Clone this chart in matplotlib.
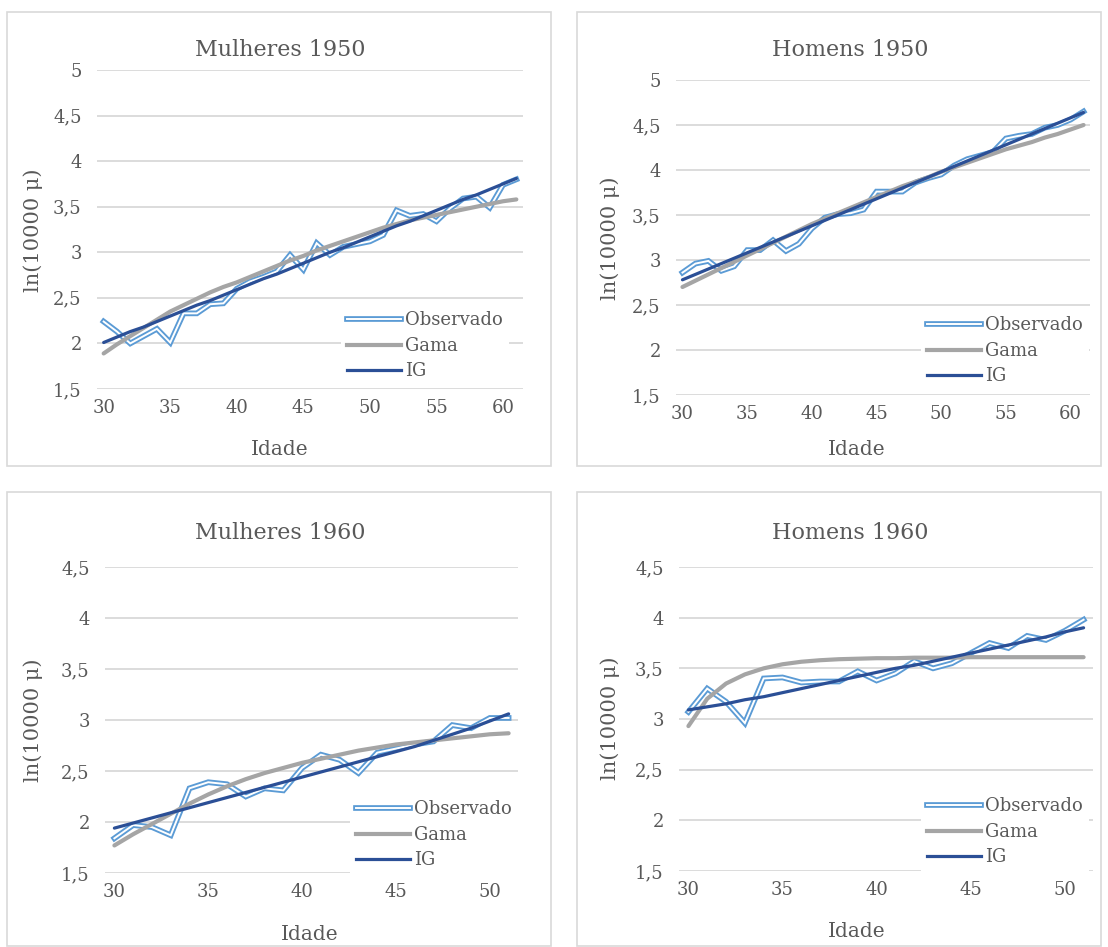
import matplotlib
matplotlib.use("Agg")
import matplotlib.pyplot as plt
from matplotlib.lines import Line2D
from matplotlib.patches import Rectangle
from matplotlib.legend_handler import HandlerTuple
from matplotlib.ticker import FuncFormatter

plt.rcParams['font.family'] = ['DejaVu Serif']

ages_1950 = list(range(30, 62))
ages_1960 = list(range(30, 52))

mulheres_1950_obs = [2.24, 2.13, 2.00, 2.08, 2.16, 2.01, 2.33, 2.33, 2.43, 2.44, 2.60, 2.68, 2.73, 2.79, 2.97, 2.81,
                     3.10, 2.97, 3.06, 3.09, 3.12, 3.19, 3.46, 3.40, 3.42, 3.34, 3.48, 3.59, 3.61, 3.49, 3.74, 3.80]
mulheres_1950_gama = [1.89, 1.99, 2.08, 2.17, 2.26, 2.35, 2.42, 2.49, 2.56, 2.62, 2.67, 2.73, 2.79, 2.85, 2.91, 2.96,
                      3.02, 3.07, 3.12, 3.17, 3.22, 3.27, 3.31, 3.35, 3.38, 3.41, 3.44, 3.47, 3.50, 3.53, 3.56, 3.58]
mulheres_1950_ig = [2.01, 2.07, 2.13, 2.18, 2.24, 2.30, 2.36, 2.42, 2.47, 2.53, 2.59, 2.65, 2.71, 2.76, 2.82, 2.88,
                    2.94, 3.00, 3.05, 3.11, 3.17, 3.23, 3.29, 3.34, 3.40, 3.46, 3.52, 3.58, 3.63, 3.69, 3.75, 3.81]

homens_1950_obs = [2.86, 2.96, 2.99, 2.88, 2.93, 3.11, 3.11, 3.22, 3.10, 3.18, 3.35, 3.47, 3.51, 3.52, 3.56, 3.76,
                   3.76, 3.76, 3.86, 3.91, 3.95, 4.05, 4.12, 4.16, 4.20, 4.35, 4.38, 4.40, 4.47, 4.50, 4.56, 4.65]
homens_1950_gama = [2.70, 2.77, 2.84, 2.91, 2.98, 3.05, 3.12, 3.19, 3.26, 3.33, 3.40, 3.46, 3.52, 3.58, 3.64, 3.70,
                    3.76, 3.82, 3.87, 3.92, 3.98, 4.03, 4.08, 4.13, 4.18, 4.23, 4.27, 4.31, 4.36, 4.40, 4.45, 4.50]
homens_1950_ig = [2.78, 2.84, 2.90, 2.96, 3.02, 3.08, 3.14, 3.20, 3.26, 3.32, 3.38, 3.44, 3.50, 3.56, 3.62, 3.68,
                  3.74, 3.80, 3.86, 3.92, 3.98, 4.04, 4.10, 4.16, 4.22, 4.28, 4.34, 4.40, 4.46, 4.52, 4.58, 4.64]

mulheres_1960_obs = [1.84, 1.97, 1.95, 1.87, 2.33, 2.39, 2.37, 2.25, 2.33, 2.31, 2.53, 2.66, 2.61, 2.48, 2.68, 2.72,
                     2.76, 2.79, 2.95, 2.92, 3.02, 3.02]
mulheres_1960_gama = [1.77, 1.88, 1.98, 2.08, 2.18, 2.27, 2.35, 2.42, 2.48, 2.53, 2.58, 2.62, 2.66, 2.70, 2.73, 2.76,
                      2.78, 2.80, 2.82, 2.84, 2.86, 2.87]
mulheres_1960_ig = [1.94, 1.99, 2.04, 2.09, 2.14, 2.19, 2.24, 2.29, 2.34, 2.39, 2.44, 2.49, 2.54, 2.59, 2.64, 2.69,
                    2.74, 2.80, 2.86, 2.92, 2.99, 3.06]

homens_1960_obs = [3.07, 3.30, 3.17, 2.96, 3.40, 3.41, 3.36, 3.37, 3.37, 3.47, 3.38, 3.45, 3.57, 3.50, 3.55, 3.65,
                   3.75, 3.70, 3.82, 3.78, 3.87, 3.98]
homens_1960_gama = [2.93, 3.20, 3.35, 3.44, 3.50, 3.54, 3.565, 3.58, 3.59, 3.595, 3.60, 3.60, 3.605, 3.605, 3.605,
                    3.61, 3.61, 3.61, 3.61, 3.61, 3.61, 3.61]
homens_1960_ig = [3.09, 3.12, 3.15, 3.19, 3.22, 3.26, 3.30, 3.34, 3.38, 3.42, 3.46, 3.50, 3.53, 3.57, 3.61, 3.65,
                  3.69, 3.73, 3.77, 3.81, 3.86, 3.90]

titles = ["Mulheres 1950", "Homens 1950", "Mulheres 1960", "Homens 1960"]
legend_labels = ["Observado", "Gama", "IG"]
x_label = "Idade"
y_label = "ln(10000 μ)"

W, H = 1108, 947
fig = plt.figure(figsize=(W / 100, H / 100), dpi=100)
fig.patch.set_facecolor("white")

C_OBS = "#5B9BD5"
C_GAMA = "#A5A5A5"
C_IG = "#2B4F96"
C_TXT = "#595959"
C_GRID = "#D9D9D9"

LW_OBS_OUT, LW_OBS_IN = 4.1, 1.4
LW_GAMA, LW_IG = 3.0, 2.3


def fx(px):
    return px / W


def fy(py):
    return 1 - py / H


# panel frames (px): left, top, right, bottom
frames = [(7, 12, 551, 466), (577, 12, 1101, 466), (7, 492, 551, 946), (577, 492, 1101, 946)]
for l, t, r, b in frames:
    fig.add_artist(Rectangle((fx(l), fy(b)), fx(r - l), (b - t) / H, transform=fig.transFigure,
                             fill=False, edgecolor=C_GRID, lw=1.2))

panels = [
    dict(ages=ages_1950, obs=mulheres_1950_obs, gama=mulheres_1950_gama, ig=mulheres_1950_ig,
         box=(97, 70, 523, 389), ylim=(1.5, 5), xticks=[30, 35, 40, 45, 50, 55, 60], xlim=(29.5, 61.5),
         title_xy=(280, 50), xl_xy=(280, 449), yl_xy=(33, 230), leg=(341, 305)),
    dict(ages=ages_1950, obs=homens_1950_obs, gama=homens_1950_gama, ig=homens_1950_ig,
         box=(676, 80, 1090, 395), ylim=(1.5, 5), xticks=[30, 35, 40, 45, 50, 55, 60], xlim=(29.5, 61.5),
         title_xy=(850, 50), xl_xy=(857, 449), yl_xy=(610, 238), leg=(921, 310)),
    dict(ages=ages_1960, obs=mulheres_1960_obs, gama=mulheres_1960_gama, ig=mulheres_1960_ig,
         box=(105, 567, 518, 873), ylim=(1.5, 4.5), xticks=[30, 35, 40, 45, 50], xlim=(29.5, 51.5),
         title_xy=(280, 533), xl_xy=(310, 934), yl_xy=(33, 720), leg=(350, 794)),
    dict(ages=ages_1960, obs=homens_1960_obs, gama=homens_1960_gama, ig=homens_1960_ig,
         box=(679, 567, 1093, 871), ylim=(1.5, 4.5), xticks=[30, 35, 40, 45, 50], xlim=(29.5, 51.5),
         title_xy=(850, 533), xl_xy=(857, 931), yl_xy=(610, 718), leg=(921, 791)),
]

fmt = FuncFormatter(lambda v, p: ("%g" % v).replace(".", ","))

for i, p in enumerate(panels):
    l, t, r, b = p["box"]
    ax = fig.add_axes([fx(l), fy(b), fx(r - l), (b - t) / H])
    ax.set_facecolor("none")
    ax.plot(p["ages"], p["obs"], color=C_OBS, lw=LW_OBS_OUT, solid_joinstyle="miter", zorder=3)
    ax.plot(p["ages"], p["obs"], color="white", lw=LW_OBS_IN, solid_joinstyle="miter", zorder=3.1)
    ax.plot(p["ages"], p["gama"], color=C_GAMA, lw=LW_GAMA, solid_capstyle="round", zorder=4)
    ax.plot(p["ages"], p["ig"], color=C_IG, lw=LW_IG, solid_capstyle="round", zorder=5)
    ax.set_xlim(*p["xlim"])
    ax.set_ylim(*p["ylim"])
    ax.set_xticks(p["xticks"])
    yt = []
    v = p["ylim"][0]
    while v <= p["ylim"][1] + 1e-9:
        yt.append(v)
        v += 0.5
    ax.set_yticks(yt)
    ax.yaxis.set_major_formatter(fmt)
    ax.grid(axis="y", color=C_GRID, lw=1.3)
    ax.set_axisbelow(True)
    for s in ax.spines.values():
        s.set_visible(False)
    ax.tick_params(length=0, labelsize=13, labelcolor=C_TXT, pad=7)
    ax.tick_params(axis="y", pad=11)

    fig.text(fx(p["title_xy"][0]), fy(p["title_xy"][1]), titles[i], ha="center", va="center",
             fontsize=16, color=C_TXT)
    fig.text(fx(p["xl_xy"][0]), fy(p["xl_xy"][1]), x_label, ha="center", va="center",
             fontsize=14.5, color=C_TXT)
    fig.text(fx(p["yl_xy"][0]), fy(p["yl_xy"][1]), y_label, ha="center", va="center",
             fontsize=15, color=C_TXT, rotation=90)

    h_obs = (Line2D([], [], color=C_OBS, lw=LW_OBS_OUT), Line2D([], [], color="white", lw=LW_OBS_IN))
    h_gama = Line2D([], [], color=C_GAMA, lw=LW_GAMA)
    h_ig = Line2D([], [], color=C_IG, lw=LW_IG)
    lx, ly = p["leg"]
    leg = ax.legend([h_obs, h_gama, h_ig], legend_labels, loc="upper left",
                    bbox_to_anchor=(fx(lx), fy(ly)), bbox_transform=fig.transFigure,
                    handler_map={tuple: HandlerTuple(ndivide=1, pad=0)},
                    frameon=True, facecolor="white", edgecolor="none", framealpha=1, fancybox=False,
                    fontsize=13, handlelength=3.0, handletextpad=0.2, labelspacing=0.42,
                    borderpad=0.35, borderaxespad=0)
    for txt in leg.get_texts():
        txt.set_color(C_TXT)
    leg.set_zorder(2.5)

fig.savefig("out.png", dpi=100, facecolor="white")
